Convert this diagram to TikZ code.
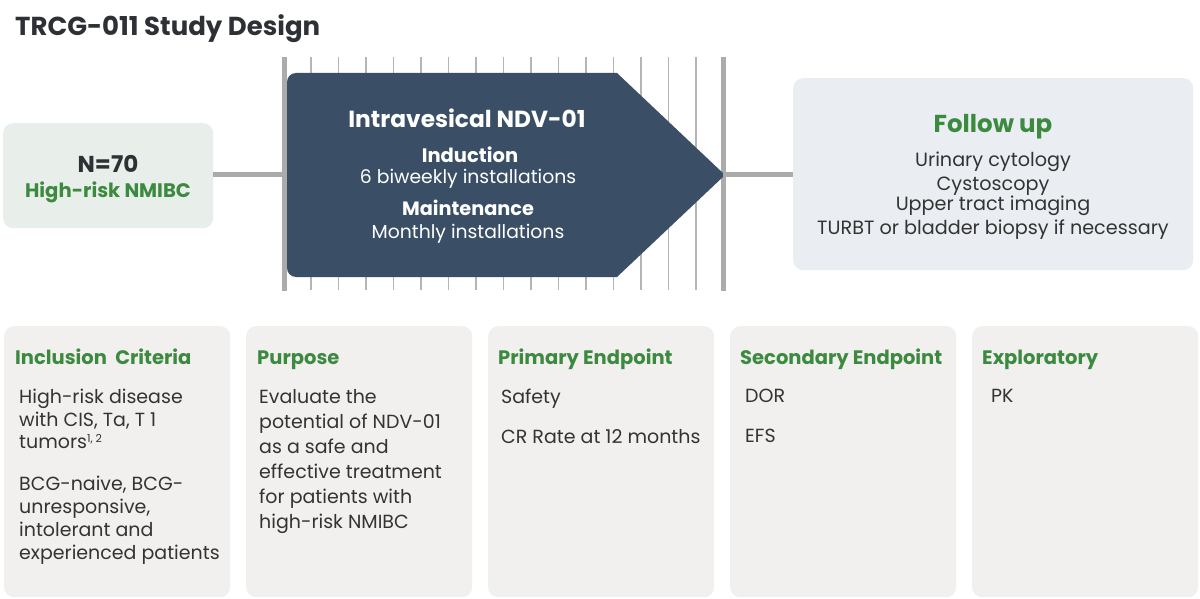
\documentclass[tikz,border=0pt]{standalone}
\usepackage{fontspec}
\setmainfont{Poppins}
\definecolor{navy}{HTML}{3A4F66}
\definecolor{grn}{HTML}{3C8A3F}
\definecolor{txt}{HTML}{333333}
\definecolor{ttl}{HTML}{2D3136}
\definecolor{lgreen}{HTML}{E8EFEA}
\definecolor{lblue}{HTML}{EAEEF2}
\definecolor{lgray}{HTML}{F1F0EE}
\definecolor{barc}{HTML}{ABABAB}
\definecolor{tickc}{HTML}{B5B5B5}
\begin{document}
\begin{tikzpicture}[x=1pt,y=-1pt,
  box/.style={draw=none,rounded corners=10pt,inner sep=0pt,anchor=north west},
  barline/.style={draw=barc,line width=5pt},
  tickline/.style={draw=tickc,line width=1.8pt},
  thickline/.style={draw=barc,line width=5pt},
  hdr/.style={font=\bfseries\fontsize{19.5}{23}\selectfont,text=grn,anchor=base west,inner sep=0pt},
  body/.style={font=\fontsize{19}{23}\selectfont,text=txt,anchor=north west,align=left,inner sep=0pt},
  ctr/.style={anchor=base,inner sep=0pt},
]
\useasboundingbox (0,0) rectangle (1200,599);
\fill[white] (0,0) rectangle (1200,599);

% title
\node[anchor=base west,inner sep=0pt,text=ttl,font=\bfseries\fontsize{26}{30}\selectfont] (title) at (15,36) {TRCG-011 Study Design};

% ticks behind pentagon
\foreach \i in {1,...,15} {
  \draw[tickline] (283.5+27.5*\i,57) -- (283.5+27.5*\i,290);
}
\draw[thickline] (284,57) -- (284,291);
\draw[thickline] (723,57) -- (723,291);
\coordinate (tl) at (284,175);
\coordinate (tr) at (723,175);

% pentagon
\fill[navy] (725,175) -- (617,73) [rounded corners=9pt] -- (287,73) -- (287,277) [sharp corners] -- (617,277) -- cycle;
\node[ctr,text=white,font=\bfseries\fontsize{23.3}{27}\selectfont] (pt) at (467,128) {Intravesical NDV-01};
\node[ctr,text=white,font=\bfseries\fontsize{19.5}{22}\selectfont] (ind) at (470,163) {Induction};
\node[ctr,text=white,font=\fontsize{18.8}{22}\selectfont] (indt) at (468,184) {6 biweekly installations};
\node[ctr,text=white,font=\bfseries\fontsize{19.3}{22}\selectfont] (mai) at (468,215.5) {Maintenance};
\node[ctr,text=white,font=\fontsize{18.8}{22}\selectfont] (mait) at (468,238) {Monthly installations};

% population
\node[box,fill=lgreen,minimum width=210pt,minimum height=105pt] (pop) at (3,123) {};
\node[ctr,text=ttl,font=\bfseries\fontsize{23}{26}\selectfont] (n70) at (108,172) {N=70};
\node[ctr,text=grn,font=\bfseries\fontsize{19.6}{22}\selectfont] (hr) at (108,197) {High-risk NMIBC};

% follow up
\node[box,fill=lblue,minimum width=400pt,minimum height=192pt] (fu) at (793,78) {};
\node[ctr,text=grn,font=\bfseries\fontsize{24.5}{28}\selectfont] (fut) at (993,133) {Follow up};
\node[ctr,text=txt,font=\fontsize{19.2}{22}\selectfont] (fu1) at (993,166.5) {Urinary cytology};
\node[ctr,text=txt,font=\fontsize{19.2}{22}\selectfont] (fu2) at (993,190) {Cystoscopy};
\node[ctr,text=txt,font=\fontsize{19.2}{22}\selectfont] (fu3) at (993,211) {Upper tract imaging};
\node[ctr,text=txt,font=\fontsize{19.2}{22}\selectfont] (fu4) at (993,234.5) {TURBT or bladder biopsy if necessary};

% connectors
\draw[barline] (pop.east |- tl) -- (tl);
\draw[barline] (tr) -- (fu.west |- tr);

% bottom boxes
\node[box,fill=lgray,minimum width=226pt,minimum height=271pt] (b1) at (4,326) {};
\node[box,fill=lgray,minimum width=226pt,minimum height=271pt] (b2) at (246,326) {};
\node[box,fill=lgray,minimum width=226pt,minimum height=271pt] (b3) at (488,326) {};
\node[box,fill=lgray,minimum width=226pt,minimum height=271pt] (b4) at (730,326) {};
\node[box,fill=lgray,minimum width=226pt,minimum height=271pt] (b5) at (972,326) {};

\node[hdr] (h1) at (15,364) {Inclusion\ \ Criteria};
\node[hdr] (h2) at (257,364) {Purpose};
\node[hdr] (h3) at (498,364) {Primary Endpoint};
\node[hdr] (h4) at (740,364) {Secondary Endpoint};
\node[hdr] (h5) at (982,364) {Exploratory};

\node[body,font=\fontsize{19}{22.6}\selectfont] (t1a) at (19,389) {High-risk disease\\with CIS, Ta, T 1\\tumors\textsuperscript{\fontsize{11}{11}\selectfont 1, 2}};
\node[body,font=\fontsize{19}{23}\selectfont] (t1b) at (19,476) {BCG-naive, BCG-\\unresponsive,\\intolerant and\\experienced patients};
\node[body,font=\fontsize{19}{25}\selectfont] (t2) at (259,389) {Evaluate the\\potential of NDV-01\\as a safe and\\effective treatment\\for patients with\\high-risk NMIBC};
\node[body] (t3a) at (501,389) {Safety};
\node[body] (t3b) at (501,429) {CR Rate at 12 months};
\node[body] (t4a) at (745,389) {DOR};
\node[body] (t4b) at (745,429) {EFS};
\node[body] (t5) at (991,389) {PK};
\end{tikzpicture}
\end{document}
